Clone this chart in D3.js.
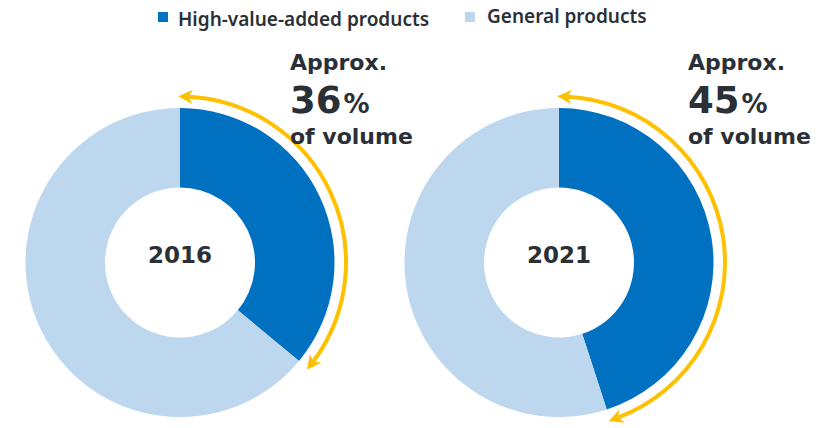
<!DOCTYPE html>
<html><head><meta charset="utf-8">
<script src="https://cdn.jsdelivr.net/npm/d3@7"></script>
<style>html,body{margin:0;padding:0;background:#fff;}</style>
</head><body>
<svg id="c" width="835" height="428"></svg>
<script>
const years = ["2016", "2021"];
const highValue = [36, 45];
const general = [64, 55];
const seriesNames = ["High-value-added products", "General products"];
const colors = ["#0070c0", "#bdd7ee"];

const svg = d3.select("#c");
const textCol = "#2b2f36";
const cx = d3.scalePoint().domain(years).range([180, 559]);
const ax = d3.scalePoint().domain(years).range([290, 688]);
const cy = 262.5, rOut = 154.5, rIn = 75, rArrow = 166;

const pie = d3.pie().sort(null).value(d => d.v);
const arc = d3.arc().innerRadius(rIn).outerRadius(rOut);

const defs = svg.append("defs");
defs.append("marker").attr("id", "ah").attr("viewBox", "0 0 10 10")
  .attr("refX", 3).attr("refY", 5).attr("markerWidth", 3.6).attr("markerHeight", 3.6)
  .attr("markerUnits", "strokeWidth").attr("orient", "auto-start-reverse")
  .append("path").attr("d", "M0,0 L10,5 L0,10 L3,5 Z").attr("fill", "#ffc000");

years.forEach((yr, i) => {
  const g = svg.append("g").attr("transform", `translate(${cx(yr)},${cy})`);
  const data = [{k: seriesNames[0], v: highValue[i]}, {k: seriesNames[1], v: general[i]}];
  g.selectAll("path.s").data(pie(data)).join("path").attr("class", "s")
    .attr("d", arc).attr("fill", (d, j) => colors[j]);
  g.append("text").attr("text-anchor", "middle").attr("y", 0)
    .attr("font-family", "DejaVu Sans").attr("font-weight", "bold")
    .attr("font-size", 23).attr("fill", textCol).text(yr);

  // arrow arc
  const boundary = 2 * Math.PI * highValue[i] / 100;
  const a0 = 0.05, a1 = boundary + 0.01 - 0.06;
  const p = d3.path();
  p.arc(0, 0, rArrow, a0 - Math.PI / 2, a1 - Math.PI / 2, false);
  g.append("path").attr("d", p.toString()).attr("fill", "none")
    .attr("stroke", "#ffc000").attr("stroke-width", 4)
    .attr("marker-start", "url(#ah)").attr("marker-end", "url(#ah)");

  // annotation
  const tx = ax(yr);
  const t = svg.append("g").attr("font-family", "DejaVu Sans").attr("font-weight", "bold").attr("fill", textCol);
  t.append("text").attr("x", tx).attr("y", 70).attr("font-size", 22).text("Approx.");
  const big = t.append("text").attr("x", tx).attr("y", 113);
  big.append("tspan").attr("font-size", 37).text(highValue[i]);
  big.append("tspan").attr("font-size", 26).attr("dx", 2).text("%");
  t.append("text").attr("x", tx).attr("y", 144).attr("font-size", 22).text("of volume");
});

// legend
const leg = [{x: 158, tx: 178, y: 26}, {x: 465, tx: 487, y: 23}];
seriesNames.forEach((n, j) => {
  svg.append("rect").attr("x", leg[j].x).attr("y", 12).attr("width", 10).attr("height", 10).attr("fill", colors[j]);
  svg.append("text").attr("x", leg[j].tx).attr("y", leg[j].y)
    .attr("font-family", "Noto Sans").attr("font-weight", "600").attr("font-size", 19)
    .attr("fill", textCol).text(n);
});
</script>
</body></html>
